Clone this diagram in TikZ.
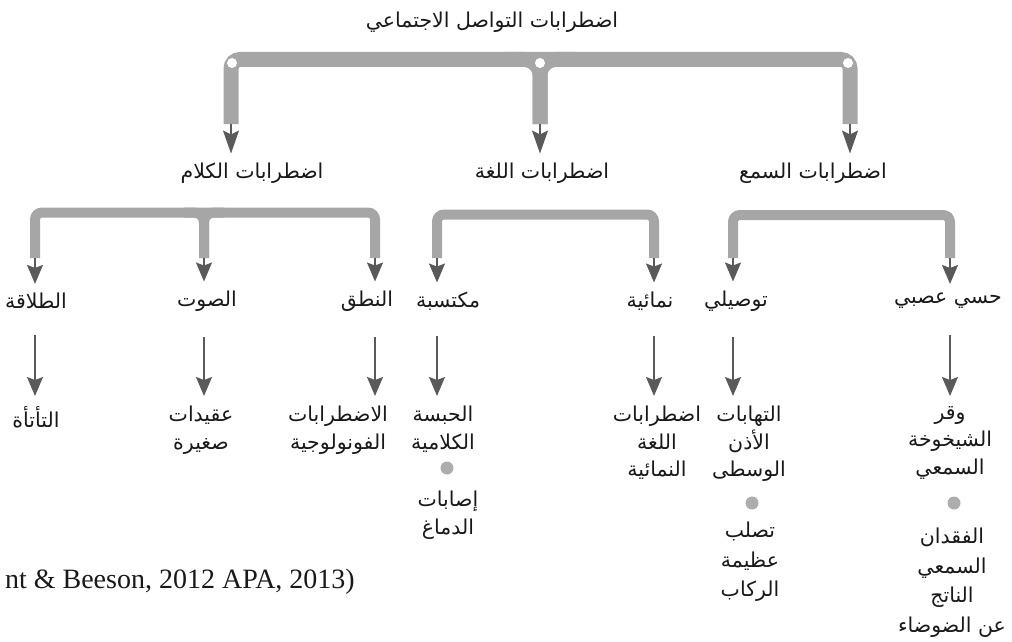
\documentclass[tikz,border=0pt]{standalone}
\usepackage{fontspec}
\usepackage{xcolor}
\usetikzlibrary{arrows.meta}
\setmainfont{Liberation Serif}
\newfontfamily\arabicfont[Script=Arabic]{DejaVu Sans}
\TeXXeTstate=1
\definecolor{bargray}{HTML}{A6A6A6}
\definecolor{tipgray}{HTML}{5A5A5A}
\definecolor{dotgray}{HTML}{ADADAD}
\newcommand{\ar}[1]{{\arabicfont\beginR #1\endR}}

\begin{document}
\begin{tikzpicture}[x=1pt,y=-1pt,
  lbl/.style={font=\arabicfont\fontsize{20.5}{27.5}\selectfont, align=center, inner sep=0pt, text=black!90},
  widelbl/.style={lbl, font=\arabicfont\fontsize{20.5}{29.5}\selectfont},
  topbar/.style={draw=bargray, line width=15pt, rounded corners=9pt},
  midbar/.style={draw=bargray, line width=10pt, rounded corners=7pt},
  bigtip/.style={draw=tipgray, line width=1.5pt, shorten >=9pt, -{Stealth[length=23pt,width=16pt,inset=4pt]}},
  midtip/.style={draw=tipgray, line width=1.5pt, shorten >=9pt, -{Stealth[length=19pt,width=16pt,inset=3pt]}},
  leafarrow/.style={draw=tipgray, line width=1.5pt, shorten <=26pt, shorten >=10pt, -{Stealth[length=19pt,width=16pt,inset=3pt]}},
  hole/.style={fill=white},
  bullet/.style={fill=dotgray}]
\useasboundingbox (0,0) rectangle (1012,642);

% LEVEL 1
  \node[lbl] (social) at (492,22) {\ar{اضطرابات التواصل الاجتماعي}};

% LEVEL 2
  \node[lbl] (speech) at (252,173) {\ar{اضطرابات الكلام}};
  \node[lbl] (lang)   at (542,173) {\ar{اضطرابات اللغة}};
  \node[lbl] (hear)   at (813,173) {\ar{اضطرابات السمع}};

% LEVEL 3
  \node[lbl] (fluency)  at (36,301)  {\ar{الطلاقة}};
  \node[lbl] (voice)    at (207,301) {\ar{الصوت}};
  \node[lbl] (artic)    at (367,301) {\ar{النطق}};
  \node[lbl] (acquired) at (448,301) {\ar{مكتسبة}};
  \node[lbl] (devel)    at (650,301) {\ar{نمائية}};
  \node[lbl] (conduct)  at (736,301) {\ar{توصيلي}};
  \node[lbl] (sensori)  at (948,301) {\ar{حسي عصبي}};

% LEAVES
  \node[lbl, anchor=north] (stutter) at (36,406)  {\ar{التأتأة}};
  \node[lbl, anchor=north] (nodules) at (201,406) {\ar{عقيدات}\\\ar{صغيرة}};
  \node[lbl, anchor=north] (phon)    at (338,406) {\ar{الاضطرابات}\\\ar{الفونولوجية}};
  \node[lbl, anchor=north] (aphasia) at (443,406) {\ar{الحبسة}\\\ar{الكلامية}};
  \node[lbl, anchor=north] (brain)   at (448,491) {\ar{إصابات}\\\ar{الدماغ}};
  \node[lbl, anchor=north] (devlang) at (657,406) {\ar{اضطرابات}\\\ar{اللغة}\\\ar{النمائية}};
  \node[lbl, anchor=north] (otitis)  at (749,406) {\ar{التهابات}\\\ar{الأذن}\\\ar{الوسطى}};
  \node[widelbl, anchor=north] (otosc)   at (750,522) {\ar{تصلب}\\\ar{عظيمة}\\\ar{الركاب}};
  \node[lbl, anchor=north] (presby)  at (950,406) {\ar{وقر}\\\ar{الشيخوخة}\\\ar{السمعي}};
  \node[widelbl, anchor=north] (noise)   at (952,528) {\ar{الفقدان}\\\ar{السمعي}\\\ar{الناتج}\\\ar{عن الضوضاء}};

% source
  \node[anchor=east, inner sep=0pt, font=\fontsize{28}{32}\selectfont, text=black!90] (src) at (355,582) {nt \& Beeson, 2012 APA, 2013)};

% top bracket
  \coordinate (s1) at (231,124);
  \coordinate (s2) at (540,124);
  \coordinate (s3) at (850,124);
  \draw[topbar] (s1) -- (231,59.5) -- (850,59.5) -- (s3);
  \draw[topbar, rounded corners=16pt] (505,59.5) -- (540,59.5) -- (s2);
  \draw[topbar, rounded corners=16pt] (575,59.5) -- (540,59.5) -- (s2);
  \foreach \x in {232, 540, 848}
      \fill[hole] (\x,63) circle (5);
  \draw[bigtip] (s1) -- (speech.north -| s1);
  \draw[bigtip] (s2) -- (lang.north -| s2);
  \draw[bigtip] (s3) -- (hear.north -| s3);

% speech bracket
  \coordinate (k1) at (35,258);
  \coordinate (k2) at (204,258);
  \coordinate (k3) at (375,258);
  \draw[midbar] (k1) -- (35,212.5) -- (375,212.5) -- (k3);
  \draw[midbar, rounded corners=10pt] (184,212.5) -- (204,212.5) -- (k2);
  \draw[midbar, rounded corners=10pt] (224,212.5) -- (204,212.5) -- (k2);

% language bracket
  \coordinate (g1) at (437,258);
  \coordinate (g2) at (654,258);
  \draw[midbar] (g1) -- (437,214.5) -- (654,214.5) -- (g2);

% hearing bracket
  \coordinate (h1) at (733,258);
  \coordinate (h2) at (950,258);
  \draw[midbar] (h1) -- (733,215) -- (950,215) -- (h2);

  \foreach \c/\n in {k1/fluency, k2/voice, k3/artic, g1/acquired, g2/devel, h1/conduct, h2/sensori}
      \draw[midtip] (\c) -- (\n.north -| \c);

% thin arrows
  \foreach \c/\a/\b in {k1/fluency/stutter, k2/voice/nodules, k3/artic/phon, g1/acquired/aphasia,
                        g2/devel/devlang, h1/conduct/otitis, h2/sensori/presby}
      \draw[leafarrow] (\a.south -| \c) -- (\b.north -| \c);

% dots
  \foreach \x/\y in {447/468, 752/503, 954/503}
      \fill[bullet] (\x,\y) circle (6.5);

\end{tikzpicture}
\end{document}
